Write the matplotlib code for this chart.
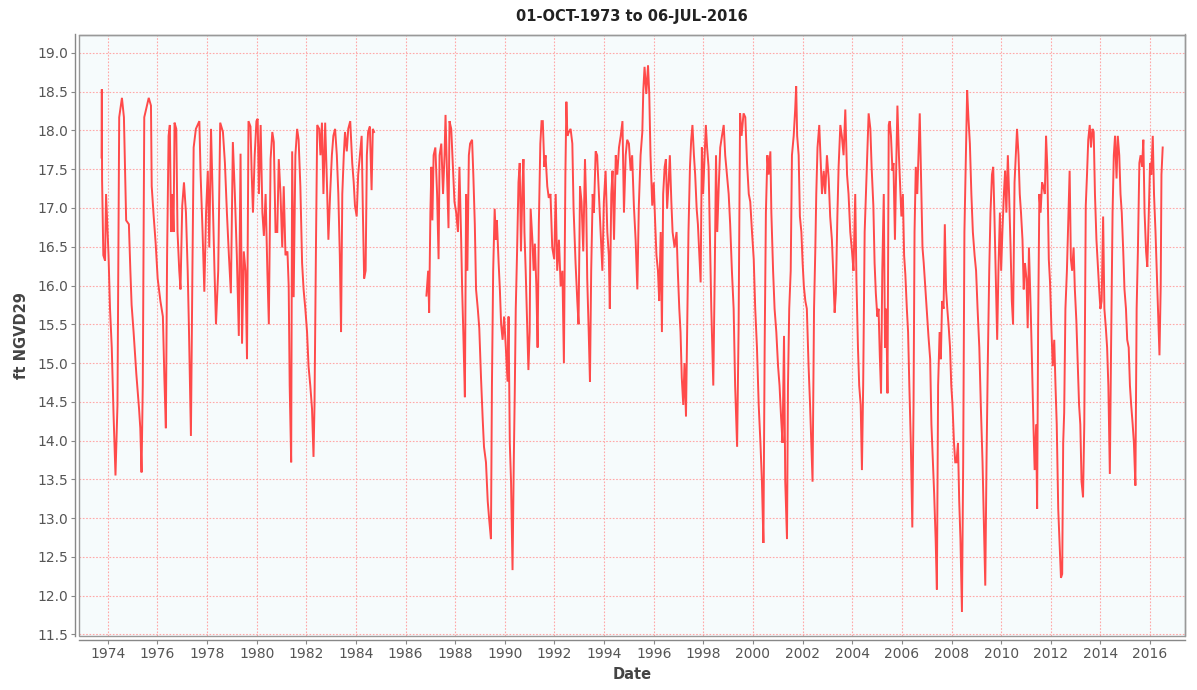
import matplotlib
matplotlib.use("Agg")
import numpy as np
import matplotlib.pyplot as plt

# stage readings (decimal year, ft NGVD29)
years_a = [1973.75, 1973.76, 1973.77, 1973.82, 1973.89, 1973.93, 1974.03, 1974.09, 1974.16, 1974.23,
           1974.31, 1974.39, 1974.46, 1974.57, 1974.65, 1974.69, 1974.74, 1974.85, 1974.91, 1974.96,
           1975.04, 1975.15, 1975.26, 1975.31, 1975.36, 1975.41, 1975.47, 1975.65, 1975.74, 1975.77,
           1975.85, 1975.93, 1976.01, 1976.12, 1976.22, 1976.28, 1976.34, 1976.39, 1976.45, 1976.50,
           1976.55, 1976.61, 1976.65, 1976.69, 1976.76, 1976.81, 1976.88, 1976.93, 1977.00, 1977.07,
           1977.15, 1977.22, 1977.27, 1977.35, 1977.41, 1977.46, 1977.55, 1977.69, 1977.74, 1977.82,
           1977.89, 1977.96, 1978.03, 1978.09, 1978.16, 1978.23, 1978.30, 1978.36, 1978.45, 1978.53,
           1978.64, 1978.72, 1978.80, 1978.88, 1978.96, 1979.04, 1979.12, 1979.20, 1979.28, 1979.35,
           1979.41, 1979.48, 1979.55, 1979.61, 1979.67, 1979.75, 1979.80, 1979.85, 1979.92, 1979.99,
           1980.04, 1980.09, 1980.16, 1980.23, 1980.29, 1980.36, 1980.43, 1980.49, 1980.56, 1980.63,
           1980.69, 1980.76, 1980.83, 1980.89, 1980.96, 1981.03, 1981.09, 1981.16, 1981.24, 1981.29,
           1981.33, 1981.39, 1981.43, 1981.49, 1981.56, 1981.63, 1981.69, 1981.76, 1981.83, 1981.89,
           1981.96, 1982.03, 1982.09, 1982.16, 1982.23, 1982.29, 1982.33, 1982.39, 1982.44, 1982.52,
           1982.57, 1982.63, 1982.69, 1982.76, 1982.83, 1982.89, 1982.96, 1983.03, 1983.09, 1983.16,
           1983.23, 1983.29, 1983.35, 1983.40, 1983.45, 1983.51, 1983.56, 1983.63, 1983.69, 1983.77,
           1983.85, 1983.91, 1983.96, 1984.03, 1984.09, 1984.16, 1984.23, 1984.28, 1984.33, 1984.39,
           1984.44, 1984.49, 1984.56, 1984.63, 1984.68, 1984.73]
stage_a = [17.65, 18.53, 17.36, 16.39, 16.32, 17.18, 16.39, 15.70, 15.20, 14.36,
           13.55, 14.46, 18.17, 18.42, 18.17, 17.58, 16.84, 16.79, 16.19, 15.75,
           15.40, 14.86, 14.41, 14.16, 13.59, 14.71, 18.17, 18.42, 18.32, 17.28,
           16.89, 16.54, 16.09, 15.80, 15.60, 14.81, 14.16, 16.39, 17.93, 18.07,
           16.69, 17.18, 16.69, 18.10, 18.02, 16.69, 16.19, 15.95, 17.03, 17.33,
           16.94, 16.19, 15.45, 14.06, 16.19, 17.78, 18.02, 18.12, 17.43, 16.69,
           15.92, 16.94, 17.48, 16.49, 18.02, 17.08, 16.19, 15.50, 16.19, 18.10,
           17.98, 17.58, 16.94, 16.39, 15.90, 17.85, 17.18, 16.39, 15.35, 17.70,
           15.25, 16.44, 16.19, 15.05, 18.12, 18.05, 17.43, 16.94, 17.68, 18.12,
           18.15, 17.18, 18.07, 16.94, 16.64, 17.18, 16.19, 15.50, 17.63, 17.98,
           17.85, 16.69, 16.69, 17.63, 17.18, 16.49, 17.28, 16.39, 16.44, 15.99,
           14.71, 13.72, 17.73, 15.85, 17.68, 18.02, 17.88, 17.28, 16.29, 15.95,
           15.70, 15.40, 14.96, 14.71, 14.41, 13.79, 14.46, 16.54, 18.07, 18.02,
           17.68, 18.10, 17.18, 18.10, 17.33, 16.59, 17.18, 17.68, 17.93, 18.02,
           17.68, 17.18, 16.39, 15.40, 17.18, 17.68, 17.98, 17.73, 18.02, 18.12,
           17.58, 17.33, 17.03, 16.89, 17.43, 17.68, 17.93, 16.94, 16.09, 16.19,
           17.68, 17.98, 18.05, 17.23, 18.02, 17.98]

years_b = [1986.84, 1986.91, 1986.95, 1987.00, 1987.04, 1987.08, 1987.13, 1987.20, 1987.27, 1987.31,
           1987.33, 1987.37, 1987.44, 1987.51, 1987.57, 1987.61, 1987.67, 1987.73, 1987.77, 1987.84,
           1987.91, 1987.97, 1988.04, 1988.11, 1988.17, 1988.24, 1988.28, 1988.33, 1988.39, 1988.44,
           1988.49, 1988.55, 1988.60, 1988.68, 1988.73, 1988.79, 1988.84, 1988.91, 1988.97, 1989.04,
           1989.11, 1989.16, 1989.24, 1989.31, 1989.37, 1989.44, 1989.48, 1989.53, 1989.59, 1989.64,
           1989.68, 1989.75, 1989.80, 1989.85, 1989.91, 1989.97, 1990.04, 1990.11, 1990.15, 1990.20,
           1990.25, 1990.31, 1990.36, 1990.40, 1990.44, 1990.49, 1990.55, 1990.60, 1990.65, 1990.71,
           1990.75, 1990.79, 1990.84, 1990.91, 1990.95, 1991.00, 1991.04, 1991.11, 1991.16, 1991.21,
           1991.27, 1991.32, 1991.37, 1991.43, 1991.48, 1991.53, 1991.59, 1991.64, 1991.71, 1991.77,
           1991.84, 1991.91, 1991.99, 1992.05, 1992.11, 1992.18, 1992.25, 1992.32, 1992.38, 1992.44,
           1992.48, 1992.52, 1992.58, 1992.65, 1992.72, 1992.77, 1992.85, 1992.92, 1992.97, 1993.03,
           1993.09, 1993.16, 1993.23, 1993.28, 1993.32, 1993.38, 1993.43, 1993.48, 1993.54, 1993.59,
           1993.66, 1993.72, 1993.79, 1993.86, 1993.93, 1993.99, 1994.06, 1994.13, 1994.19, 1994.23,
           1994.29, 1994.34, 1994.40, 1994.47, 1994.53, 1994.60, 1994.67, 1994.74, 1994.80, 1994.87,
           1994.93, 1995.00, 1995.07, 1995.13, 1995.20, 1995.27, 1995.34, 1995.40, 1995.47, 1995.54,
           1995.58, 1995.63, 1995.70, 1995.77, 1995.82, 1995.87, 1995.94, 1996.00, 1996.06, 1996.11,
           1996.17, 1996.22, 1996.28, 1996.33, 1996.38, 1996.44, 1996.49, 1996.54, 1996.60, 1996.65,
           1996.71, 1996.76, 1996.84, 1996.92, 1996.97, 1997.03, 1997.08, 1997.13, 1997.19, 1997.24,
           1997.30, 1997.35, 1997.40, 1997.46, 1997.51, 1997.56, 1997.62, 1997.67, 1997.73, 1997.78,
           1997.83, 1997.89, 1997.94, 1997.99, 1998.05, 1998.10, 1998.15, 1998.21, 1998.26, 1998.32,
           1998.37, 1998.40, 1998.46, 1998.51, 1998.56, 1998.62, 1998.68, 1998.75, 1998.82, 1998.88,
           1998.95, 1999.02, 1999.08, 1999.15, 1999.22, 1999.28, 1999.36, 1999.42, 1999.48, 1999.54,
           1999.62, 1999.69, 1999.76, 1999.83, 1999.89, 1999.96, 2000.03, 2000.09, 2000.16, 2000.23,
           2000.30, 2000.36, 2000.42, 2000.47, 2000.52, 2000.58, 2000.63, 2000.70, 2000.74, 2000.81,
           2000.87, 2000.94, 2001.01, 2001.07, 2001.13, 2001.19, 2001.25, 2001.30, 2001.37, 2001.41,
           2001.46, 2001.52, 2001.57, 2001.64, 2001.70, 2001.74, 2001.78, 2001.84, 2001.89, 2001.95,
           2002.00, 2002.05, 2002.11, 2002.17, 2002.24, 2002.30, 2002.35, 2002.40, 2002.46, 2002.51,
           2002.55, 2002.60, 2002.67, 2002.72, 2002.78, 2002.85, 2002.91, 2002.98, 2003.05, 2003.11,
           2003.18, 2003.23, 2003.29, 2003.34, 2003.40, 2003.45, 2003.52, 2003.58, 2003.65, 2003.72,
           2003.79, 2003.85, 2003.92, 2003.99, 2004.05, 2004.12, 2004.17, 2004.23, 2004.28, 2004.34,
           2004.39, 2004.44, 2004.50, 2004.56, 2004.60, 2004.66, 2004.73, 2004.78, 2004.85, 2004.90,
           2004.95, 2005.01, 2005.06, 2005.11, 2005.16, 2005.21, 2005.27, 2005.32, 2005.37, 2005.42,
           2005.47, 2005.51, 2005.56, 2005.62, 2005.66, 2005.72, 2005.78, 2005.82, 2005.88, 2005.93,
           2005.98, 2006.04, 2006.09, 2006.14, 2006.20, 2006.25, 2006.30, 2006.36, 2006.42, 2006.47,
           2006.51, 2006.56, 2006.62, 2006.67, 2006.72, 2006.77, 2006.83, 2006.88, 2006.94, 2007.00,
           2007.07, 2007.14, 2007.19, 2007.25, 2007.30, 2007.36, 2007.41, 2007.46, 2007.52, 2007.57,
           2007.62, 2007.68, 2007.73, 2007.78, 2007.83, 2007.89, 2007.94, 2007.99, 2008.04, 2008.10,
           2008.15, 2008.20, 2008.26, 2008.31, 2008.36, 2008.42, 2008.47, 2008.52, 2008.58, 2008.63,
           2008.68, 2008.74, 2008.80, 2008.86, 2008.93, 2008.99, 2009.05, 2009.12, 2009.18, 2009.25,
           2009.32, 2009.36, 2009.41, 2009.46, 2009.52, 2009.57, 2009.63, 2009.68, 2009.73, 2009.78,
           2009.84, 2009.89, 2009.95, 2010.00, 2010.05, 2010.11, 2010.16, 2010.21, 2010.27, 2010.32,
           2010.38, 2010.43, 2010.48, 2010.54, 2010.59, 2010.64, 2010.70, 2010.75, 2010.80, 2010.86,
           2010.91, 2010.96, 2011.02, 2011.07, 2011.12, 2011.19, 2011.24, 2011.30, 2011.35, 2011.41,
           2011.45, 2011.49, 2011.54, 2011.59, 2011.65, 2011.70, 2011.76, 2011.81, 2011.86, 2011.92,
           2011.97, 2012.03, 2012.08, 2012.14, 2012.19, 2012.24, 2012.30, 2012.35, 2012.41, 2012.46,
           2012.50, 2012.54, 2012.59, 2012.65, 2012.70, 2012.76, 2012.81, 2012.86, 2012.92, 2012.97,
           2013.03, 2013.08, 2013.14, 2013.19, 2013.24, 2013.30, 2013.35, 2013.41, 2013.46, 2013.51,
           2013.57, 2013.62, 2013.68, 2013.73, 2013.78, 2013.84, 2013.89, 2013.95, 2014.00, 2014.05,
           2014.11, 2014.16, 2014.22, 2014.27, 2014.32, 2014.38, 2014.43, 2014.49, 2014.54, 2014.59,
           2014.65, 2014.70, 2014.76, 2014.81, 2014.86, 2014.92, 2014.97, 2015.03, 2015.08, 2015.14,
           2015.19, 2015.24, 2015.30, 2015.35, 2015.41, 2015.46, 2015.51, 2015.57, 2015.62, 2015.68,
           2015.73, 2015.78, 2015.84, 2015.89, 2015.95, 2016.00, 2016.05, 2016.11, 2016.16, 2016.22,
           2016.27, 2016.32, 2016.38, 2016.43, 2016.46, 2016.51]
stage_b = [15.87, 16.19, 15.65, 16.94, 17.53, 16.84, 17.68, 17.78, 17.18, 16.64,
           16.34, 17.68, 17.83, 17.18, 17.68, 18.20, 17.43, 16.74, 18.12, 18.02,
           17.53, 17.08, 16.94, 16.69, 17.53, 16.59, 15.95, 15.35, 14.56, 17.18,
           16.19, 17.68, 17.83, 17.88, 17.43, 16.79, 15.95, 15.70, 15.45, 14.81,
           14.26, 13.92, 13.72, 13.22, 12.98, 12.73, 14.71, 16.19, 16.99, 16.59,
           16.84, 16.29, 15.95, 15.50, 15.30, 15.60, 15.20, 14.76, 15.60, 13.97,
           13.47, 12.33, 13.72, 14.61, 15.70, 16.39, 17.33, 17.58, 16.44, 17.28,
           17.63, 16.69, 16.19, 15.40, 14.91, 15.40, 16.99, 16.59, 16.19, 16.54,
           15.99, 15.20, 16.79, 17.83, 18.12, 18.12, 17.53, 17.68, 17.28, 17.13,
           17.18, 16.49, 16.34, 17.18, 16.19, 16.59, 15.99, 16.19, 15.00, 17.43,
           18.37, 17.93, 17.98, 18.02, 17.83, 16.99, 16.29, 15.80, 15.50, 17.28,
           17.08, 16.44, 17.63, 17.03, 16.09, 15.40, 14.76, 16.19, 17.18, 16.94,
           17.73, 17.68, 17.18, 16.69, 16.19, 17.08, 17.48, 16.69, 16.39, 15.70,
           17.18, 17.48, 16.59, 17.68, 17.43, 17.78, 17.93, 18.12, 16.94, 17.68,
           17.88, 17.83, 17.48, 17.68, 17.03, 16.59, 15.95, 17.03, 17.68, 17.98,
           18.52, 18.82, 18.47, 18.84, 18.47, 17.68, 17.03, 17.33, 16.79, 16.39,
           16.19, 15.80, 16.69, 15.40, 17.18, 17.53, 17.63, 16.99, 17.33, 17.68,
           17.08, 16.69, 16.49, 16.69, 16.19, 15.70, 15.40, 14.81, 14.46, 15.00,
           14.31, 15.50, 16.69, 17.53, 17.88, 18.07, 17.68, 17.43, 16.99, 16.79,
           16.44, 16.04, 17.78, 17.18, 17.68, 18.07, 17.78, 17.53, 16.69, 15.70,
           15.10, 14.71, 16.19, 17.68, 16.69, 17.28, 17.78, 17.93, 18.07, 17.68,
           17.43, 17.18, 16.79, 16.19, 15.70, 14.71, 13.92, 15.45, 18.22, 17.93,
           18.22, 18.17, 17.58, 17.18, 17.08, 16.69, 16.34, 15.70, 15.20, 14.46,
           13.97, 13.47, 12.68, 15.20, 16.94, 17.68, 17.43, 17.73, 16.94, 16.19,
           15.70, 15.40, 14.96, 14.71, 14.31, 13.97, 15.35, 13.47, 12.73, 14.71,
           15.70, 16.19, 17.68, 17.93, 18.27, 18.57, 17.93, 17.68, 16.89, 16.69,
           16.29, 15.99, 15.80, 15.70, 14.96, 14.46, 13.97, 13.47, 15.70, 16.44,
           17.18, 17.78, 18.07, 17.68, 17.18, 17.48, 17.18, 17.68, 17.38, 16.89,
           16.59, 16.19, 15.65, 15.90, 16.89, 17.53, 18.07, 17.93, 17.68, 18.27,
           17.43, 17.18, 16.69, 16.44, 16.19, 17.18, 16.04, 15.20, 14.71, 14.46,
           13.62, 14.71, 16.69, 17.28, 17.68, 18.22, 18.02, 17.53, 17.03, 16.29,
           15.90, 15.60, 15.70, 15.10, 14.61, 16.19, 17.18, 15.20, 15.70, 14.61,
           18.07, 18.12, 17.93, 17.48, 17.58, 16.59, 17.68, 18.32, 17.68, 17.28,
           16.89, 17.18, 16.39, 16.14, 15.70, 15.40, 14.71, 13.97, 12.88, 14.46,
           16.69, 17.53, 17.18, 17.68, 18.22, 17.43, 16.49, 16.29, 15.99, 15.70,
           15.35, 15.05, 14.21, 13.72, 13.32, 12.73, 12.08, 14.71, 15.40, 15.05,
           15.80, 15.70, 16.79, 15.95, 15.70, 15.45, 15.20, 14.71, 14.46, 13.97,
           13.72, 13.72, 13.97, 13.22, 12.73, 11.79, 13.72, 16.69, 17.68, 18.52,
           18.17, 17.83, 17.18, 16.69, 16.39, 16.19, 15.70, 15.20, 14.46, 13.72,
           12.73, 12.13, 13.72, 14.96, 16.19, 16.94, 17.43, 17.53, 16.89, 16.19,
           15.30, 16.19, 16.94, 16.19, 16.69, 17.18, 17.48, 16.94, 17.68, 17.18,
           16.49, 15.80, 15.50, 17.33, 17.68, 18.02, 17.68, 17.18, 16.94, 16.59,
           15.95, 16.29, 16.09, 15.45, 16.49, 15.70, 15.05, 14.21, 13.62, 14.21,
           13.12, 15.45, 17.18, 16.94, 17.33, 17.28, 17.18, 17.93, 17.53, 16.34,
           16.04, 15.40, 14.96, 15.30, 14.71, 14.21, 13.12, 12.73, 12.23, 12.28,
           13.97, 14.36, 15.70, 16.19, 16.79, 17.48, 16.34, 16.19, 16.49, 15.95,
           15.55, 15.05, 14.46, 14.21, 13.47, 13.27, 14.21, 17.03, 17.43, 17.88,
           18.07, 17.78, 18.02, 17.98, 17.18, 16.59, 16.29, 15.95, 15.70, 15.80,
           16.89, 15.70, 15.45, 15.20, 14.71, 13.57, 15.20, 16.94, 17.68, 17.93,
           17.38, 17.93, 17.68, 17.18, 16.94, 16.44, 15.95, 15.70, 15.30, 15.20,
           14.71, 14.46, 14.21, 13.97, 13.42, 15.70, 16.44, 17.58, 17.68, 17.53,
           17.88, 16.94, 16.44, 16.24, 16.94, 17.58, 17.43, 17.93, 17.18, 16.69,
           16.19, 15.70, 15.10, 15.99, 17.43, 17.78]

x_ticks = list(range(1974, 2017, 2))
y_ticks = [11.5, 12.0, 12.5, 13.0, 13.5, 14.0, 14.5, 15.0, 15.5, 16.0,
           16.5, 17.0, 17.5, 18.0, 18.5, 19.0]

line_color = "#ff4a4a"
grid_color = "#ffa8a8"

fig = plt.figure(figsize=(11.97, 6.90), dpi=100)
ax = fig.add_axes([0.066, 0.078, 0.924, 0.872])
ax.set_facecolor("#f6fbfc")

for yrs, vals in [(years_a, stage_a), (years_b, stage_b)]:
    ax.plot(yrs, vals, color=line_color, lw=1.4, solid_joinstyle="miter")

ax.set_xlim(1972.84, 2017.41)
ax.set_ylim(11.478, 19.237)
ax.set_xticks(x_ticks)
ax.set_xticklabels([str(t) for t in x_ticks])
ax.set_yticks(y_ticks)
ax.set_yticklabels(["%.1f" % t for t in y_ticks])

ax.grid(True, color=grid_color, lw=0.8, linestyle=(0, (1.5, 1.5)))
ax.set_axisbelow(True)

# plot outline plus offset axis lines, JFreeChart style
for s in ["top", "right"]:
    ax.spines[s].set_color("#999999")
    ax.spines[s].set_linewidth(1.0)
for s in ["left", "bottom"]:
    ax.spines[s].set_position(("outward", 3))
    ax.spines[s].set_color("#888888")
    ax.spines[s].set_linewidth(1.0)
frame = plt.Rectangle((0, 0), 1, 1, transform=ax.transAxes, fill=False,
                      edgecolor="#999999", lw=1.0, clip_on=False, zorder=5)
ax.add_patch(frame)

ax.tick_params(axis="both", length=3, width=0.8, color="#888888",
               labelcolor="#555555", labelsize=10)
ax.tick_params(axis="y", pad=2)
ax.tick_params(axis="x", pad=2)

ax.set_title("01-OCT-1973 to 06-JUL-2016", fontsize=10.5, fontweight="bold",
             color="#222222", pad=10)
ax.set_xlabel("Date", fontsize=10.5, fontweight="bold", color="#444444", labelpad=4)
ax.set_ylabel("ft NGVD29", fontsize=10.5, fontweight="bold", color="#444444", labelpad=6)

fig.savefig("out.png", dpi=100)
